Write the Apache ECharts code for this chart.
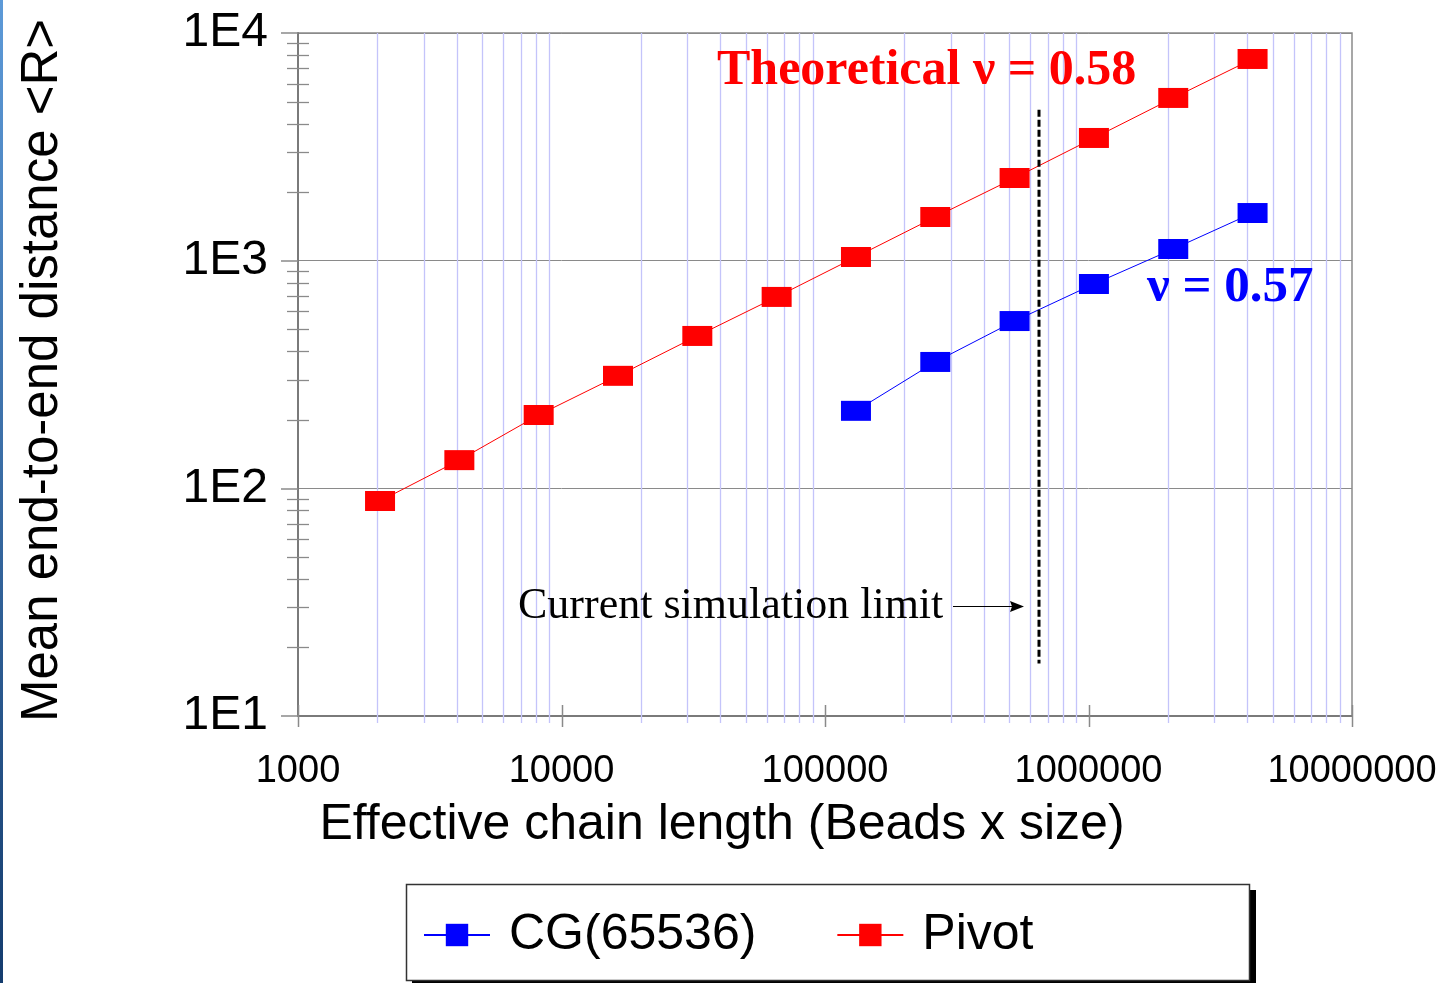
<!DOCTYPE html>
<html><head><meta charset="utf-8">
<script src="https://cdn.jsdelivr.net/npm/echarts@6/dist/echarts.min.js"></script>
<style>html,body{margin:0;padding:0;background:#fff}#c{width:1444px;height:983px}</style>
</head><body><div id="c"></div>
<script>
// ---- data ----
const chainLength = [2048, 4096, 8192, 16384, 32768, 65536, 131072, 262144, 524288, 1048576, 2097152, 4194304];
const pivotR = [88, 133, 210, 312, 467, 693, 1038, 1555, 2307, 3459, 5185, 7690];
const cgLength = [131072, 262144, 524288, 1048576, 2097152, 4194304];
const cgR = [219, 359, 543, 790, 1125, 1619];
const xDecades = [1000, 10000, 100000, 1000000, 10000000];
const yDecades = [10, 100, 1000, 10000];
const minorMultipliers = [2, 3, 4, 5, 6, 7, 8, 9];
const simLimitX = 650000;
const simLimitY = [17, 4600];

const chart = echarts.init(document.getElementById('c'), null, {renderer: 'canvas'});
const gray = '#8a8a8a';
const option = {
  animation: false,
  backgroundColor: '#fff',
  grid: {left: 298, right: 92, top: 33, bottom: 267, show: true, borderColor: gray, borderWidth: 1.5},
  xAxis: {
    type: 'log', logBase: 10, min: 1000, max: 10000000,
    name: 'Effective chain length (Beads x size)', nameLocation: 'middle', nameGap: 84,
    nameTextStyle: {fontFamily: 'Liberation Sans', fontSize: 50, color: '#000', padding: [0, 206, 0, 0]},
    axisLine: {show: true, lineStyle: {color: '#7a7a7a', width: 2}},
    axisTick: {show: false}, splitLine: {show: false},
    axisLabel: {fontFamily: 'Liberation Sans', fontSize: 38, color: '#000', margin: 37,
      showMinLabel: true, showMaxLabel: true, formatter: v => String(Math.round(v))}
  },
  yAxis: {
    type: 'log', logBase: 10, min: 10, max: 10000,
    name: 'Mean end-to-end distance <R>', nameLocation: 'middle', nameGap: 230,
    nameTextStyle: {fontFamily: 'Liberation Sans', fontSize: 51, color: '#000', padding: [0, 0, 0, 8]},
    axisLine: {show: true, lineStyle: {color: '#7a7a7a', width: 2}},
    axisTick: {show: true, length: 17, lineStyle: {color: gray, width: 1.5}},
    splitLine: {show: true, lineStyle: {color: gray, width: 1}},
    axisLabel: {fontFamily: 'Liberation Sans', fontSize: 48, color: '#000', margin: 30,
      showMinLabel: true, showMaxLabel: true, formatter: v => '1E' + Math.round(Math.log10(v))}
  },
  legend: {
    left: 418, top: 905, itemWidth: 66, itemHeight: 28, itemGap: 80,
    textStyle: {fontFamily: 'Liberation Sans', fontSize: 50, color: '#000', lineHeight: 50, padding: [0, 0, 0, 14]},
    data: ['CG(65536)', 'Pivot']
  },
  series: [
    {name: 'CG(65536)', type: 'line', data: cgLength.map((x, i) => [x, cgR[i]]),
     symbol: 'rect', symbolSize: [30, 20], itemStyle: {color: '#0000ff'},
     lineStyle: {color: '#0000ff', width: 1}, z: 5},
    {name: 'Pivot', type: 'line', data: chainLength.map((x, i) => [x, pivotR[i]]),
     symbol: 'rect', symbolSize: [30, 20], itemStyle: {color: '#ff0000'},
     lineStyle: {color: '#ff0000', width: 1}, z: 5}
  ]
};
chart.setOption(option);

// decorations placed through the chart's own scales
const px = v => chart.convertToPixel({xAxisIndex: 0}, v);
const py = v => chart.convertToPixel({yAxisIndex: 0}, v);
const plotTop = py(10000), plotBottom = py(10), plotLeft = px(1000);
const g = [];
xDecades.slice(0, -1).forEach(d => minorMultipliers.forEach(m => {
  const x = Math.round(px(d * m)) + 0.5;
  g.push({type: 'line', z: 1, shape: {x1: x, y1: plotTop, x2: x, y2: plotBottom + 7}, style: {stroke: '#c4c4fa', lineWidth: 1.3}});
}));
xDecades.forEach(d => {
  const x = Math.round(px(d)) + 0.5;
  g.push({type: 'line', z: 2, shape: {x1: x, y1: plotBottom - 11, x2: x, y2: plotBottom + 11}, style: {stroke: gray, lineWidth: 1.5}});
});
yDecades.slice(0, -1).forEach(d => minorMultipliers.forEach(m => {
  const y = Math.round(py(d * m)) + 0.5;
  g.push({type: 'line', z: 2, shape: {x1: plotLeft - 11, y1: y, x2: plotLeft + 11, y2: y}, style: {stroke: gray, lineWidth: 1.3}});
}));
const lx = Math.round(px(simLimitX));
g.push({type: 'line', z: 10, shape: {x1: lx, y1: py(simLimitY[1]), x2: lx, y2: py(simLimitY[0])},
  style: {stroke: '#000', lineWidth: 3, lineDash: [7, 3]}});
// annotations
g.push({type: 'text', z: 10, left: 717, top: 46, style: {text: 'Theoretical ν = 0.58', fill: '#ff0000',
  font: 'bold 50px "Liberation Serif"'}});
g.push({type: 'text', z: 10, left: 1147, top: 262, style: {text: 'ν = 0.57', fill: '#0000ff',
  font: 'bold 51px "Liberation Serif"'}});
g.push({type: 'text', z: 10, left: 518, top: 584, style: {text: 'Current simulation limit', fill: '#000',
  font: '44px "Liberation Serif"'}});
g.push({type: 'line', z: 10, shape: {x1: 953, y1: 606.5, x2: 1014, y2: 606.5}, style: {stroke: '#000', lineWidth: 1.2}});
g.push({type: 'polygon', z: 10, shape: {points: [[1024, 606.5], [1010, 601], [1012, 606.5], [1010, 612]]}, style: {fill: '#000'}});
// legend frame with shadow
g.push({type: 'rect', z: 0, shape: {x: 412, y: 890, width: 844, height: 96}, style: {fill: '#000'}});
g.push({type: 'rect', z: 1, shape: {x: 406.5, y: 884.5, width: 843, height: 96}, style: {fill: '#fff', stroke: '#333', lineWidth: 1.5}});
// left page edge stripe
g.push({type: 'rect', z: 0, shape: {x: 0, y: 0, width: 3, height: 983},
  style: {fill: new echarts.graphic.LinearGradient(0, 0, 0, 1, [{offset: 0, color: '#5d9ad8'}, {offset: 1, color: '#143c6e'}])}});
chart.setOption({graphic: {elements: g}});
</script></body></html>
